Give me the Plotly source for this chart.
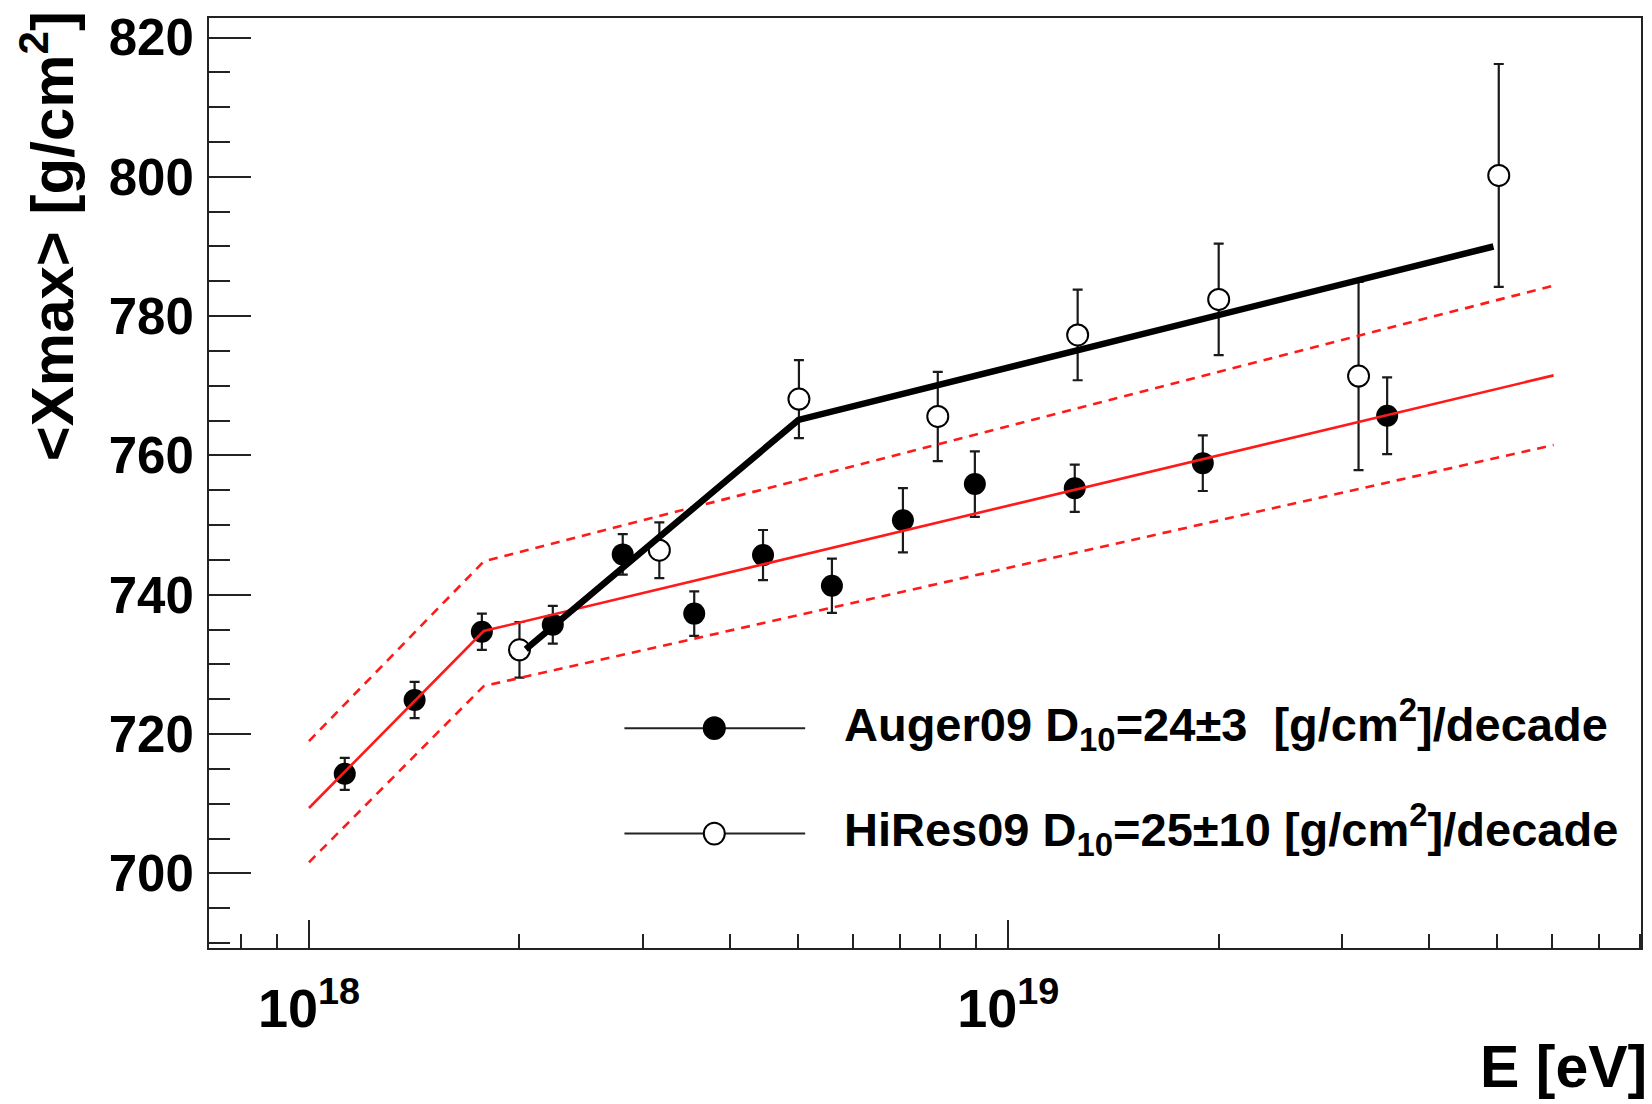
import plotly.graph_objects as go

# ---- <Xmax> measurements -------------------------------------------------
auger_energy = [1.125e18, 1.416e18, 1.767e18, 2.232e18, 2.81e18, 3.556e18,
                4.46e18, 5.596e18, 7.07e18, 8.96e18, 1.245e19, 1.898e19, 3.483e19]
auger_xmax = [714.3, 724.9, 734.7, 735.7, 745.8, 737.3,
              745.7, 741.3, 750.7, 755.9, 755.3, 758.9, 765.7]
auger_err = [2.3, 2.6, 2.6, 2.7, 2.9, 3.2, 3.6, 3.9, 4.6, 4.7, 3.4, 4.0, 5.5]

hires_energy = [2.0e18, 3.17e18, 5.02e18, 7.93e18, 1.257e19, 2.0e19, 3.17e19, 5.03e19]
hires_xmax = [732.1, 746.4, 768.1, 765.6, 777.3, 782.4, 771.4, 800.2]
hires_err = [4.0, 4.0, 5.6, 6.4, 6.5, 8.0, 13.5, 16.0]

# ---- broken-line elongation-rate fits --------------------------------------
auger_fit_energy = [1.0e18, 1.778e18, 6.026e19]
auger_fit_xmax = [709.4, 734.8, 771.5]
auger_fit_upper = [719.0, 744.8, 784.4]
auger_fit_lower = [701.6, 726.9, 761.5]

hires_fit_energy = [2.042e18, 5.012e18, 4.943e19]
hires_fit_xmax = [732.2, 765.1, 790.0]

# ---- axis ticks -------------------------------------------------------------
y_ticks = [700, 720, 740, 760, 780, 800, 820]
x_major = [1e18, 1e19]
x_major_text = ["10<sup>18</sup>", "10<sup>19</sup>"]
x_minor = [8e17, 9e17] + [m * 1e18 for m in range(2, 10)] + [m * 1e19 for m in range(2, 9)]

legend_labels = [
    "Auger09 D<sub>10</sub>=24\u00b13\u00a0 [g/cm<sup>2</sup>]/decade",
    "HiRes09 D<sub>10</sub>=25\u00b110 [g/cm<sup>2</sup>]/decade",
]

# ---- page geometry ----------------------------------------------------------
W, H = 1652, 1104
L, R, T, B = 209, 9, 13, 156
PW, PH = W - L - R, H - T - B


def px(x):
    return (x - L) / PW


def py(y):
    return (H - B - y) / PH


FONT = "Liberation Sans, Arial, Helvetica, sans-serif"
RED = "#ff1a1a"

fig = go.Figure()

fig.add_trace(go.Scatter(
    x=auger_energy, y=auger_xmax, mode="markers",
    marker=dict(symbol="circle", size=22, color="black", line=dict(width=0)),
    error_y=dict(type="data", array=auger_err, visible=True,
                 color="#1a1a1a", thickness=2.2, width=5),
    showlegend=False,
))
fig.add_trace(go.Scatter(
    x=hires_energy, y=hires_xmax, mode="markers",
    marker=dict(symbol="circle", size=21, color="white",
                line=dict(width=2, color="black")),
    error_y=dict(type="data", array=hires_err, visible=True,
                 color="#1a1a1a", thickness=2.2, width=5),
    showlegend=False,
))

for ys, dash in [(auger_fit_upper, "9px,7px"), (auger_fit_lower, "9px,7px"),
                 (auger_fit_xmax, "solid")]:
    fig.add_trace(go.Scatter(
        x=auger_fit_energy, y=ys, mode="lines",
        line=dict(color=RED, width=2.6, dash=dash),
        showlegend=False,
    ))

fig.add_trace(go.Scatter(
    x=hires_fit_energy, y=hires_fit_xmax, mode="lines",
    line=dict(color="black", width=6.5),
    showlegend=False,
))

# ---- hand-drawn legend ------------------------------------------------------
shapes = []
annotations = []
legend_rows = [(727, "black"), (833, "white")]
for (row_y, fill), label in zip(legend_rows, legend_labels):
    shapes.append(dict(type="line", xref="paper", yref="paper",
                       x0=px(625), x1=px(806), y0=py(row_y), y1=py(row_y),
                       line=dict(color="#222222", width=2)))
    shapes.append(dict(type="circle", xref="paper", yref="paper",
                       x0=px(715 - 10.5), x1=px(715 + 10.5),
                       y0=py(row_y + 11), y1=py(row_y - 11),
                       fillcolor=fill, line=dict(color="black", width=2)))
    annotations.append(dict(text=label, xref="paper", yref="paper",
                            x=px(843), y=py(row_y - 4), xanchor="left", yanchor="middle",
                            showarrow=False,
                            font=dict(family=FONT, size=47, color="black", weight="bold")))

# axis titles
annotations.append(dict(text="E [eV]", xref="paper", yref="paper",
                        x=px(1651), y=py(1068), xanchor="right", yanchor="middle",
                        showarrow=False,
                        font=dict(family=FONT, size=59, color="black", weight="bold")))
annotations.append(dict(text="&lt;Xmax&gt; [g/cm<sup>2</sup>]", xref="paper", yref="paper",
                        x=px(48), y=py(4), xanchor="center", yanchor="top",
                        textangle=-90, showarrow=False,
                        font=dict(family=FONT, size=60, color="black", weight="bold")))

fig.update_layout(
    width=W, height=H,
    margin=dict(l=L, r=R, t=T, b=B, pad=0),
    paper_bgcolor="white", plot_bgcolor="white",
    shapes=shapes, annotations=annotations,
    showlegend=False,
)

fig.update_xaxes(
    type="log", range=[17.857, 19.905],
    showgrid=False, zeroline=False,
    showline=True, linecolor="#222222", linewidth=2, mirror=True,
    tickmode="array", tickvals=x_major, ticktext=x_major_text,
    ticks="inside", ticklen=28, tickwidth=2, tickcolor="#222222",
    ticklabelstandoff=12,
    tickfont=dict(family=FONT, size=54, color="black", weight="bold"),
    minor=dict(tickmode="array", tickvals=x_minor, ticks="inside",
               ticklen=14, tickwidth=2, tickcolor="#222222", showgrid=False),
)
fig.update_yaxes(
    range=[689.3, 822.8],
    showgrid=False, zeroline=False,
    showline=True, linecolor="#222222", linewidth=2, mirror=True,
    tickmode="array", tickvals=y_ticks,
    ticks="inside", ticklen=42, tickwidth=2, tickcolor="#222222",
    ticklabelstandoff=3,
    tickfont=dict(family=FONT, size=51, color="black", weight="bold"),
    minor=dict(tickmode="linear", tick0=700, dtick=5, ticks="inside",
               ticklen=21, tickwidth=2, tickcolor="#222222", showgrid=False),
)

fig.write_html("out.html")
